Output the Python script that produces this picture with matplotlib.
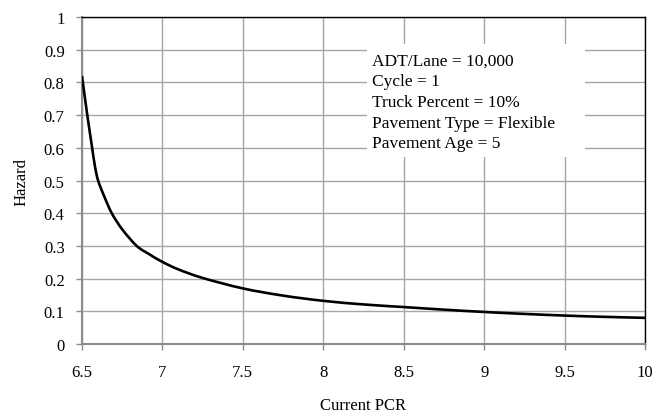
import matplotlib
matplotlib.use("Agg")
import matplotlib.pyplot as plt
from matplotlib.patches import Rectangle, PathPatch
from matplotlib.path import Path

# Data
pcr = [6.5, 6.53, 6.56, 6.58, 6.60, 6.637, 6.685, 6.751, 6.84, 6.92, 7.0,
       7.1, 7.25, 7.5, 7.75, 8.0, 8.25, 8.5, 8.75, 9.0, 9.25, 9.5, 9.75, 10.0]
hazard = [0.82, 0.71, 0.61, 0.545, 0.50, 0.453, 0.40, 0.35, 0.30, 0.274, 0.251,
          0.228, 0.202, 0.170, 0.148, 0.132, 0.121, 0.113, 0.105, 0.098, 0.092, 0.087, 0.083, 0.080]

x_ticks = [6.5, 7, 7.5, 8, 8.5, 9, 9.5, 10]
x_labels = ["6.5", "7", "7.5", "8", "8.5", "9", "9.5", "10"]
y_ticks = [0, 0.1, 0.2, 0.3, 0.4, 0.5, 0.6, 0.7, 0.8, 0.9, 1]
y_labels = ["0", "0.1", "0.2", "0.3", "0.4", "0.5", "0.6", "0.7", "0.8", "0.9", "1"]

annotation_lines = ["ADT/Lane = 10,000", "Cycle = 1", "Truck Percent = 10%",
                    "Pavement Type = Flexible", "Pavement Age = 5"]
x_title = "Current PCR"
y_title = "Hazard"

plt.rcParams["font.family"] = ["Liberation Serif", "DejaVu Serif"]

fig = plt.figure(figsize=(6.56, 4.14), dpi=100)
ax = fig.add_axes([82/656, 1-345/414, (645-82)/656, (345-18)/414])

ax.set_xlim(6.5, 10)
ax.set_ylim(0, 1)


def smooth_path(xs, ys, tension=1/6):
    """Excel-like smoothed line: Catmull-Rom segments as cubic Beziers."""
    verts = [(xs[0], ys[0])]
    codes = [Path.MOVETO]
    n = len(xs)
    for i in range(n - 1):
        x0, y0 = (xs[i - 1], ys[i - 1]) if i > 0 else (xs[i], ys[i])
        x1, y1 = xs[i], ys[i]
        x2, y2 = xs[i + 1], ys[i + 1]
        x3, y3 = (xs[i + 2], ys[i + 2]) if i + 2 < n else (x2, y2)
        c1 = (x1 + (x2 - x0) * tension, y1 + (y2 - y0) * tension)
        c2 = (x2 - (x3 - x1) * tension, y2 - (y3 - y1) * tension)
        verts += [c1, c2, (x2, y2)]
        codes += [Path.CURVE4] * 3
    return Path(verts, codes)


ax.add_patch(PathPatch(smooth_path(pcr, hazard), facecolor="none", edgecolor="black",
                       lw=1.9, transform=ax.transData, zorder=3, clip_on=True))

ax.set_xticks(x_ticks)
ax.set_xticklabels(x_labels)
ax.set_yticks(y_ticks)
ax.set_yticklabels(y_labels)

grid_c = "#a6a6a6"
ax.grid(True, color=grid_c, lw=1.0, zorder=0)
ax.set_axisbelow(True)

for s in ["left", "bottom"]:
    ax.spines[s].set_color("#8c8c8c")
    ax.spines[s].set_linewidth(1.5)
for s in ["top", "right"]:
    ax.spines[s].set_color("black")
    ax.spines[s].set_linewidth(1.0)

ax.tick_params(axis="both", direction="out", length=4, width=1, color="#8c8c8c",
               labelsize=12, labelcolor="black")
ax.tick_params(axis="x", pad=10.5)
ax.tick_params(axis="y", pad=8.5)

ax.set_xlabel(x_title, fontsize=12, labelpad=12)
ax.set_ylabel(y_title, fontsize=12, labelpad=10)

# white box behind the annotation (hides the grid)
ax.add_patch(Rectangle((0.506, 0.573), 0.387, 0.345, transform=ax.transAxes,
                       facecolor="white", edgecolor="none", zorder=2))
ax.text(0.515, 0.891, "\n".join(annotation_lines), transform=ax.transAxes,
        ha="left", va="top", fontsize=12.5, linespacing=1.39, zorder=4)

fig.savefig("out.png", dpi=100)
